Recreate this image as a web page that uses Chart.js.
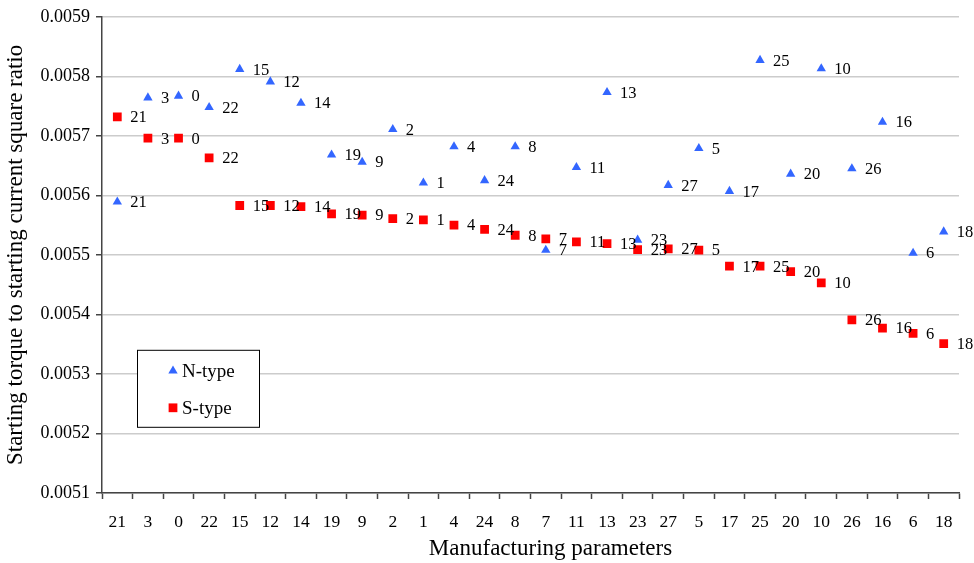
<!DOCTYPE html>
<html>
<head>
<meta charset="utf-8">
<script src="https://cdn.jsdelivr.net/npm/chart.js@4.4.1/dist/chart.umd.min.js"></script>
<style>
  html, body { margin: 0; padding: 0; background: #fff; }
</style>
</head>
<body>
<canvas id="torqueChart" width="974" height="563"></canvas>
<script>
// Manufacturing parameter sets, in the order they appear on the x axis
const params = ['21', '3', '0', '22', '15', '12', '14', '19', '9', '2', '1', '4', '24', '8',
                '7', '11', '13', '23', '27', '5', '17', '25', '20', '10', '26', '16', '6', '18'];

// Starting torque / starting current^2 ratio
const nType = [0.005589, 0.005764, 0.005767, 0.005748, 0.005812, 0.005791, 0.005755, 0.005668,
               0.005656, 0.005711, 0.005621, 0.005682, 0.005625, 0.005682, 0.005508, 0.005647,
               0.005773, 0.005525, 0.005617, 0.005679, 0.005607, 0.005827, 0.005636, 0.005813,
               0.005645, 0.005723, 0.005503, 0.005539];
const sType = [0.005732, 0.005696, 0.005696, 0.005663, 0.005583, 0.005583, 0.005581, 0.005569,
               0.005567, 0.005561, 0.005559, 0.005550, 0.005543, 0.005533, 0.005527, 0.005522,
               0.005519, 0.005509, 0.005510, 0.005508, 0.005481, 0.005481, 0.005472, 0.005453,
               0.005391, 0.005377, 0.005368, 0.005351];

// y axis range
const yMin = 0.0051;
const yMax = 0.0059;
const yStep = 0.0001;

const xTitle = 'Manufacturing parameters';

Chart.defaults.font.family = '"Liberation Serif", "Times New Roman", serif';
Chart.defaults.color = '#000';

// writes the parameter number next to every marker
const pointLabels = {
    id: 'pointLabels',
    afterDatasetsDraw(chart) {
        const ctx = chart.ctx;
        ctx.save();
        ctx.font = '16.5px "Liberation Serif"';
        ctx.fillStyle = '#000';
        ctx.textBaseline = 'middle';
        ctx.textAlign = 'left';
        chart.data.datasets.forEach((ds, i) => {
            chart.getDatasetMeta(i).data.forEach((pt, j) => {
                ctx.fillText(params[j], pt.x + 13, pt.y + 1);
            });
        });
        ctx.restore();
    }
};

// boxed legend inside the plot, lower left, plus the x axis title (sits a bit right of centre)
const boxLegend = {
    id: 'boxLegend',
    afterDraw(chart) {
        const { ctx, chartArea } = chart;
        const x = chartArea.left + 35, y = chartArea.top + 333, w = 122, h = 77;
        ctx.save();
        ctx.fillStyle = '#fff';
        ctx.fillRect(x, y, w, h);
        ctx.strokeStyle = '#000';
        ctx.lineWidth = 1;
        ctx.strokeRect(x + 0.5, y + 0.5, w, h);
        ctx.font = '19px "Liberation Serif"';
        ctx.textBaseline = 'middle';
        chart.data.datasets.forEach((ds, i) => {
            const cy = y + 21 + i * 37;
            ctx.fillStyle = ds.backgroundColor;
            Chart.helpers.drawPoint(ctx, { pointStyle: ds.pointStyle, radius: ds.pointRadius, borderWidth: 0, rotation: 0 }, x + 36, cy);
            ctx.fillStyle = '#000';
            ctx.fillText(ds.label, x + 45, cy + 1);
        });

        ctx.font = '23px "Liberation Serif"';
        ctx.textAlign = 'center';
        ctx.fillText(xTitle, (chartArea.left + chartArea.right) / 2 + 20, chartArea.bottom + 56);
        ctx.restore();
    }
};

const ctx = document.getElementById('torqueChart').getContext('2d');
const torqueChart = new Chart(ctx, {
    type: 'line',
    data: {
        labels: params,
        datasets: [{
            label: 'N-type',
            data: nType,
            showLine: false,
            pointStyle: 'triangle',
            pointRadius: 5.4,
            backgroundColor: '#3366ff',
            borderColor: '#3366ff',
            pointBorderWidth: 0
        }, {
            label: 'S-type',
            data: sType,
            showLine: false,
            pointStyle: 'rect',
            pointRadius: 6.2,
            backgroundColor: '#ff0000',
            borderColor: '#ff0000',
            pointBorderWidth: 0
        }]
    },
    options: {
        responsive: false,
        animation: false,
        devicePixelRatio: 1,
        layout: { padding: { top: 13, right: 15, left: 0, bottom: 0 } },
        plugins: {
            legend: { display: false },
            tooltip: { enabled: false }
        },
        scales: {
            x: {
                offset: true,
                grid: {
                    offset: true,
                    drawOnChartArea: false,
                    tickLength: 6,
                    tickColor: '#444',
                    tickWidth: 1.5
                },
                border: { color: '#444', width: 1.5 },
                ticks: { font: { size: 17.5 }, padding: 13, maxRotation: 0, autoSkip: false },
                title: { display: false },
                afterFit(scale) { scale.height = 70; }
            },
            y: {
                min: yMin,
                max: yMax,
                grid: {
                    color: '#cccccc',
                    lineWidth: 1.5,
                    tickLength: 6,
                    tickColor: '#444',
                    tickWidth: 1.5
                },
                border: { color: '#444', width: 1.5 },
                ticks: {
                    stepSize: yStep,
                    font: { size: 18 },
                    padding: 6,
                    callback: v => v.toFixed(4)
                },
                title: {
                    display: true,
                    text: 'Starting torque to starting current square ratio',
                    font: { size: 23 },
                    padding: { top: 2, bottom: 0 }
                },
                afterFit(scale) { scale.width = 102; }
            }
        }
    },
    plugins: [pointLabels, boxLegend]
});
</script>
</body>
</html>
